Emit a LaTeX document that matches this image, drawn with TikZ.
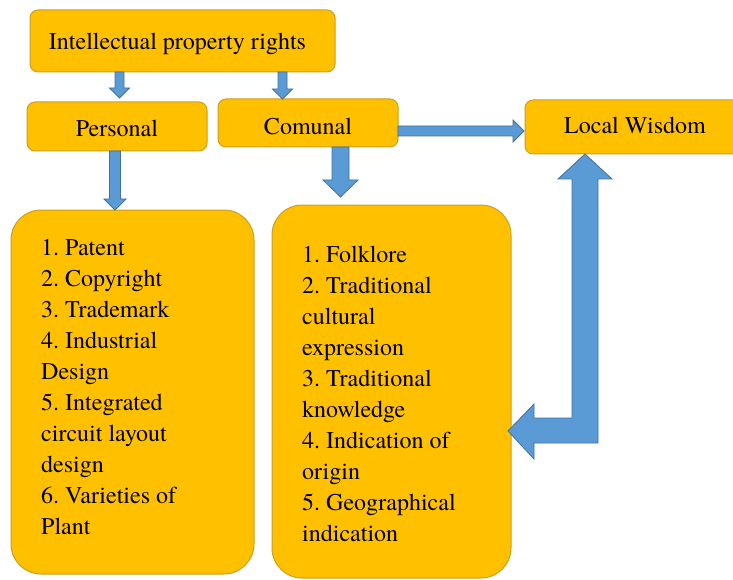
\documentclass[tikz,border=0pt]{standalone}
\usepackage{fontspec}
\newfontfamily\dserif{texgyretermes-regular.otf}
\usetikzlibrary{calc}
\definecolor{boxfill}{HTML}{FFC000}
\definecolor{boxline}{HTML}{C9A020}
\definecolor{arrfill}{HTML}{5B9BD5}
\definecolor{arrline}{HTML}{41719C}
\tikzset{
  smallbox/.style={draw=boxline, fill=boxfill, line width=1pt, rounded corners=8pt, inner sep=0pt},
  bigbox/.style={draw=boxline, fill=boxfill, line width=1pt, rounded corners=30pt, inner sep=0pt},
  lbl/.style={inner sep=0pt, font=\dserif\fontsize{24}{31}\selectfont\frenchspacing, anchor=base},
  listtxt/.style={inner sep=0pt, font=\dserif\fontsize{24}{31}\selectfont\frenchspacing, anchor=base west},
  blockarrow/.style={draw=arrline, fill=arrfill, line width=0.8pt, line join=miter}
}
\newcommand{\darrow}[6]{% x, ytop, ytip, shaft w, head w, head len
  \path[blockarrow] (#1-#4/2,#2) -- (#1+#4/2,#2) -- (#1+#4/2,#3-#6) -- (#1+#5/2,#3-#6)
    -- (#1,#3) -- (#1-#5/2,#3-#6) -- (#1-#4/2,#3-#6) -- cycle;}
\begin{document}
\begin{tikzpicture}[x=1pt,y=-1pt]
\useasboundingbox (0,0) rectangle (733,580);
% boxes
\node[smallbox, minimum width=305pt, minimum height=62pt] (ipr) at (182.5,41) {};
\node[smallbox, minimum width=180pt, minimum height=49pt] (pers) at (117,126.5) {};
\node[smallbox, minimum width=180pt, minimum height=48pt] (comu) at (308,123) {};
\node[smallbox, minimum width=220pt, minimum height=54pt] (local) at (635,127) {};
\node[bigbox, minimum width=243pt, minimum height=364pt] (leftbig) at (132.5,392) {};
\node[bigbox, minimum width=239pt, minimum height=373pt] (rightbig) at (391.5,391.5) {};
% labels
\node[lbl] (tipr) at (177.5,50) {Intellectual property rights};
\node[lbl] (tpers) at (117,137) {Personal};
\node[lbl] (tcomu) at (308,135) {Comunal};
\node[lbl] (tlocal) at (635,134) {Local Wisdom};
\node[listtxt] (tleft) at (41,255) {\begin{tabular}[t]{@{}l@{}}
1. Patent\\ 2. Copyright\\ 3. Trademark\\ 4. Industrial\\ Design\\
5. Integrated\\ circuit layout\\ design\\ 6. Varieties of\\ Plant\end{tabular}};
\node[listtxt] (tright) at (302,262) {\begin{tabular}[t]{@{}l@{}}
1. Folklore\\ 2. Traditional\\ cultural\\ expression\\ 3. Traditional\\
knowledge\\ 4. Indication of\\ origin\\ 5. Geographical\\ indication\end{tabular}};
% arrows
\darrow{119.5}{72}{98}{9}{20}{10}
\darrow{282.5}{72}{99}{9}{20}{10}
\darrow{115}{151}{210}{11}{22}{11}
\darrow{340.5}{147}{197}{17}{35}{17}
\path[blockarrow] (398,126) -- (513,126) -- (513,120) -- (524,131) -- (513,142) -- (513,136) -- (398,136) -- cycle;
\path[blockarrow] (585,154) -- (612,179) -- (598,179) -- (598,443) -- (534,443) -- (534,459)
  -- (508,431) -- (534,404) -- (534,418) -- (572,418) -- (572,179) -- (558,179) -- cycle;
\end{tikzpicture}
\end{document}
